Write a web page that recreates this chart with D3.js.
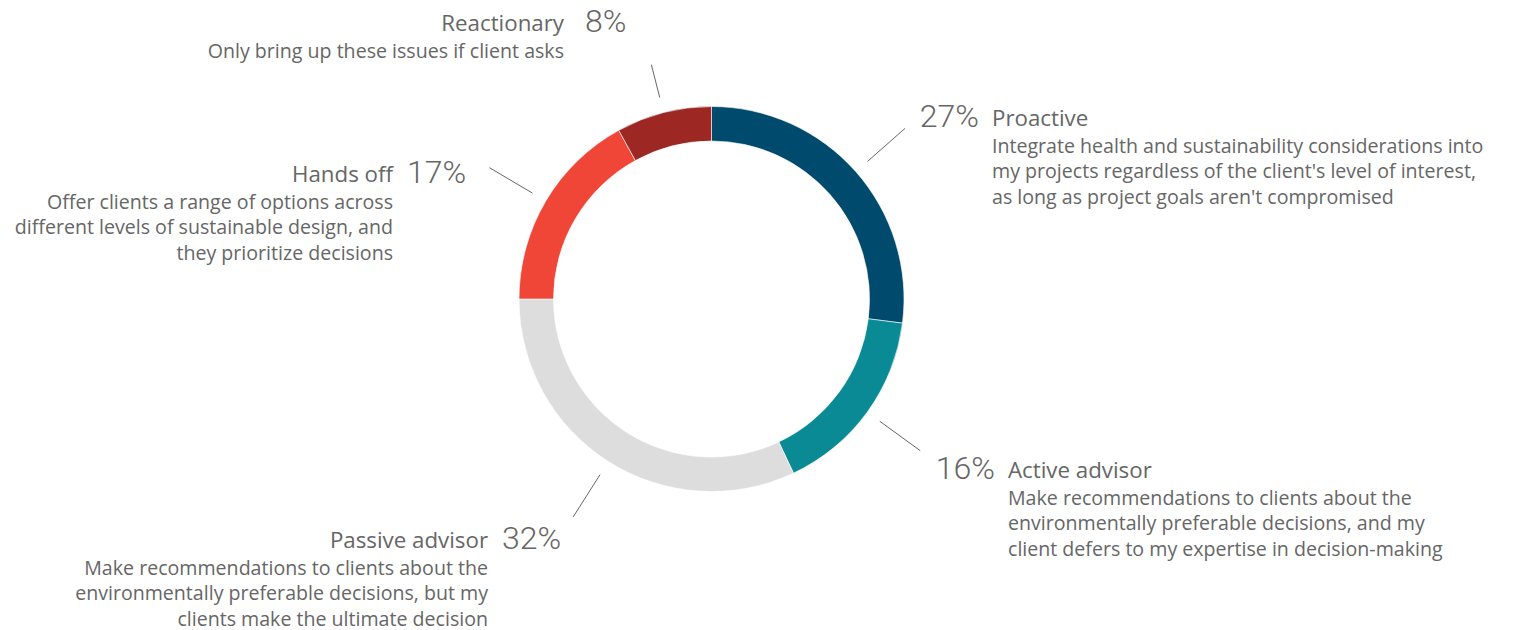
<!DOCTYPE html>
<html>
<head>
<meta charset="utf-8">
<script src="https://cdn.jsdelivr.net/npm/d3@7"></script>
<style>
  body { margin: 0; background: #fff; }
  svg text { font-family: "Open Sans", "Noto Sans", sans-serif; fill: #666; }
  .pct { font-family: Roboto, sans-serif; font-weight: 300; font-size: 32px; }
  .name { font-size: 22.3px; }
  .desc { font-size: 19.6px; }
</style>
</head>
<body>
<svg id="chart" width="1514" height="630"></svg>
<script>
// ---- data ----
var categories = ["Proactive", "Active advisor", "Passive advisor", "Hands off", "Reactionary"];
var values = [27, 16, 32, 17, 8];
var descriptions = [
  ["Integrate health and sustainability considerations into",
   "my projects regardless of the client's level of interest,",
   "as long as project goals aren't compromised"],
  ["Make recommendations to clients about the",
   "environmentally preferable decisions, and my",
   "client defers to my expertise in decision-making"],
  ["Make recommendations to clients about the",
   "environmentally preferable decisions, but my",
   "clients make the ultimate decision"],
  ["Offer clients a range of options across",
   "different levels of sustainable design, and",
   "they prioritize decisions"],
  ["Only bring up these issues if client asks"]
];
var colors = ["#004a6d", "#0a8a95", "#dcdddc", "#f04637", "#9c2723"];

// ---- layout (label anchors, side) ----
var cx = 711.5, cy = 299;
var labelPos = [
  {x: 992, y: 126, side: "right", lineOuter: 258},
  {x: 1008, y: 478, side: "right", lineOuter: 258},
  {x: 488, y: 548, side: "left", lineOuter: 258},
  {x: 393, y: 182, side: "left", lineOuter: 258},
  {x: 564, y: 31, side: "left", lineOuter: 242}
];

var svg = d3.select("#chart");
var g = svg.append("g").attr("transform", "translate(" + cx + "," + cy + ")");

var pie = d3.pie().sort(null).value(d => d)(values);
var arc = d3.arc().innerRadius(158).outerRadius(192.5);

g.selectAll(".slice")
  .data(pie)
  .enter()
  .append("path")
    .classed("slice", true)
    .attr("d", arc)
    .attr("fill", (d, i) => colors[i])
    .attr("stroke", "#fff")
    .attr("stroke-width", 0.6);

// leader lines
g.selectAll(".leader")
  .data(pie)
  .enter()
  .append("line")
    .classed("leader", true)
    .each(function(d, i) {
      var a = (d.startAngle + d.endAngle) / 2;
      var r0 = 208, r1 = labelPos[i].lineOuter;
      d3.select(this)
        .attr("x1", Math.sin(a) * r0).attr("y1", -Math.cos(a) * r0)
        .attr("x2", Math.sin(a) * r1).attr("y2", -Math.cos(a) * r1);
    })
    .attr("stroke", "#666")
    .attr("stroke-width", 1);

// labels
categories.forEach(function(name, i) {
  var p = labelPos[i];
  var lab = svg.append("g");
  var right = p.side === "right";
  lab.append("text")
    .classed("name", true)
    .attr("x", p.x).attr("y", p.y)
    .attr("text-anchor", right ? "start" : "end")
    .text(name);
  var pct = lab.append("text")
    .classed("pct", true)
    .attr("y", p.y + 1)
    .text(values[i] + "%");
  if (right) {
    pct.attr("x", p.x - 13).attr("text-anchor", "end");
  } else {
    pct.attr("x", p.x + (i === 4 ? 21 : 14)).attr("text-anchor", "start");
  }
  descriptions[i].forEach(function(line, j) {
    lab.append("text")
      .classed("desc", true)
      .attr("x", p.x)
      .attr("y", p.y + 25.5 * (j + 1) + 1)
      .attr("text-anchor", right ? "start" : "end")
      .text(line);
  });
});
</script>
</body>
</html>
